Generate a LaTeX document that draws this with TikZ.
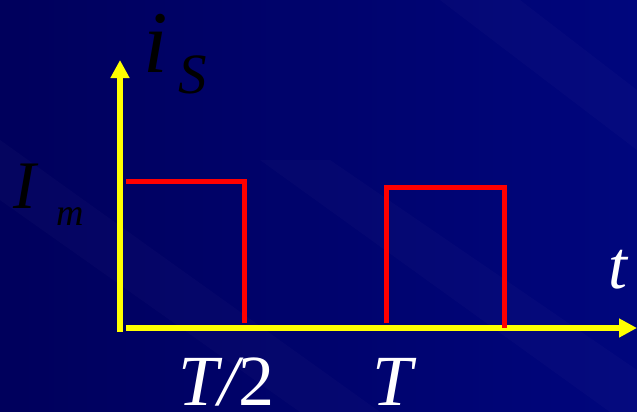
\documentclass[tikz,border=0pt]{standalone}
\usepackage{fontspec}
\setmainfont{Liberation Serif}
\usetikzlibrary{arrows.meta}
\definecolor{bgdark}{RGB}{0,0,92}
\definecolor{bglight}{RGB}{0,6,125}
\definecolor{axisyellow}{RGB}{255,255,0}
\definecolor{pulsered}{RGB}{255,0,0}
\tikzset{
  axisline/.style={draw=axisyellow, line width=6pt},
  axistip/.style={-{Triangle[width=18pt,length=18pt]}},
  pulse/.style={draw=pulsered, line width=5pt, line join=miter},
  lbl/.style={inner sep=0pt, anchor=base west},
  streak/.style={fill=white, opacity=0.018}
}
\begin{document}
\begin{tikzpicture}[x=1pt,y=-1pt]
  % background
  \shade[left color=bgdark, right color=bglight] (0,0) rectangle (637,412);
  \useasboundingbox (0,0) rectangle (637,412);
  \fill[streak] (440,0) -- (520,0) -- (637,90) -- (637,150) -- cycle;
  \fill[streak] (0,140) -- (0,200) -- (300,412) -- (380,412) -- cycle;
  \fill[streak] (260,160) -- (330,160) -- (637,370) -- (637,412) -- (610,412) -- cycle;
  % coordinates
  \coordinate (ybot) at (120,332);
  \coordinate (ytop) at (120,60);
  \coordinate (xleft) at (126,328);
  \coordinate (xright) at (637,328);
  \coordinate (p1a) at (126,181);
  \coordinate (p1b) at (244.5,181);
  \coordinate (p1c) at (244.5,323);
  \coordinate (p2a) at (386,323);
  \coordinate (p2b) at (386,187);
  \coordinate (p2c) at (504,187);
  \coordinate (p2d) at (504,328);
  % axes
  \draw[axisline, axistip, fill=axisyellow] (ybot) -- (ytop);
  \draw[axisline, axistip, fill=axisyellow] (xleft) -- (xright);
  % pulses
  \draw[pulse] (p1a) -- (p1b) -- (p1c);
  \draw[pulse] (p2a) -- (p2b) -- (p2c) -- (p2d);
  % labels
  \node[lbl, text=black] (li) at (143,72) {\fontsize{88}{90}\selectfont\itshape i};
  \node[lbl, text=black] (lS) at (178,93) {\fontsize{57}{60}\selectfont\itshape S};
  \node[lbl, text=black] (lI) at (13,208) {\fontsize{68}{70}\selectfont\itshape I};
  \node[lbl, text=black] (lm) at (56,225) {\fontsize{38}{40}\selectfont\itshape m};
  \node[lbl, text=white] (lt) at (608,288) {\fontsize{68}{70}\selectfont\itshape t};
  \node[lbl, text=white] (lT2) at (178,405) {\fontsize{72}{74}\selectfont\itshape T/\upshape 2};
  \node[lbl, text=white] (lT) at (372,405) {\fontsize{72}{74}\selectfont\itshape T};
\end{tikzpicture}
\end{document}
